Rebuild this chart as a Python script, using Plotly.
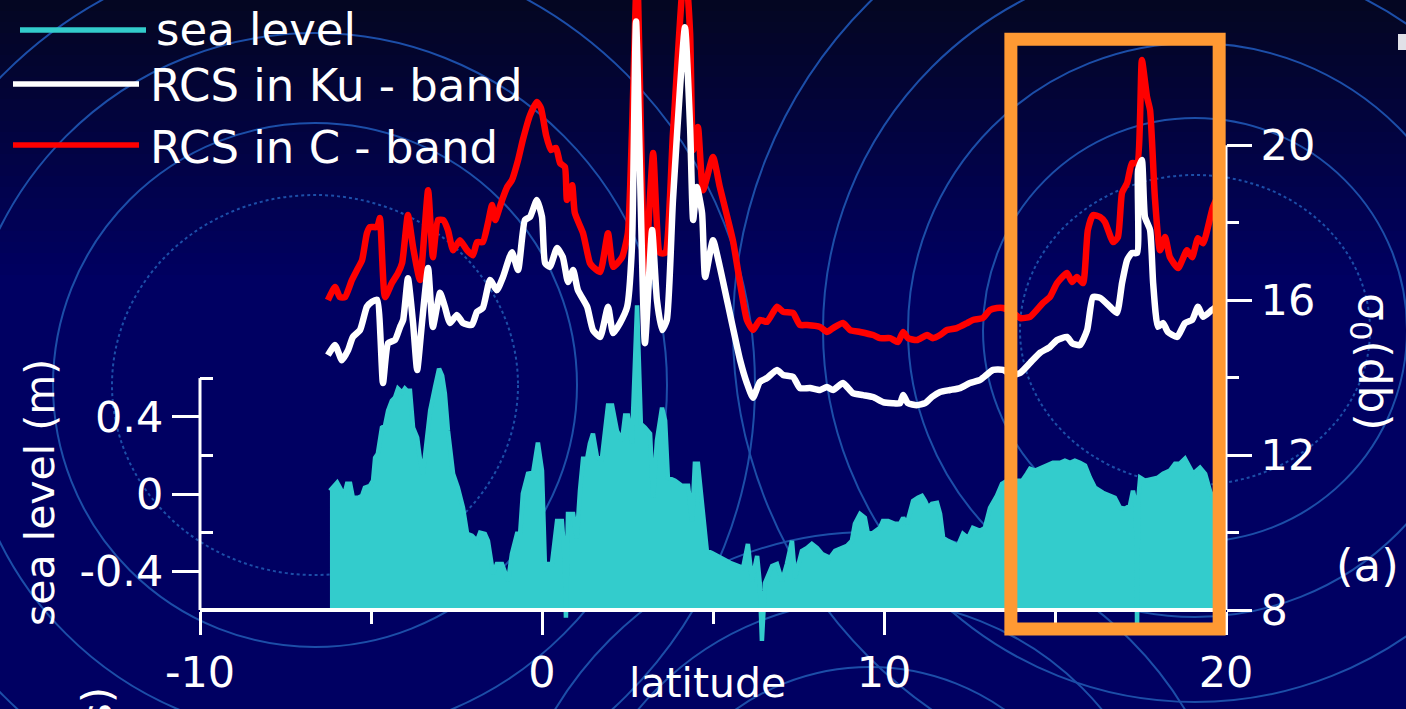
import plotly.graph_objects as go

# ---------------- data ----------------
SEA_LAT = [-6.20, -6.11, -5.99, -5.91, -5.79, -5.70, -5.61, -5.53, -5.38, -5.26, -5.18, -5.03, -4.94, -4.88,
           -4.80, -4.68, -4.59, -4.50, -4.39, -4.30, -4.21, -4.09, -4.01, -3.95, -3.86, -3.77, -3.65, -3.57,
           -3.48, -3.36, -3.27, -3.13, -3.01, -2.92, -2.84, -2.75, -2.60, -2.46, -2.31, -2.19, -2.05, -1.90,
           -1.81, -1.67, -1.58, -1.43, -1.32, -1.17, -1.08, -0.99, -0.88, -0.73, -0.64, -0.56, -0.41, -0.26,
           -0.12, 0.00, 0.09, 0.18, 0.29, 0.44, 0.58, 0.67, 0.70, 0.76, 0.91, 1.02, 1.11, 1.20, 1.32, 1.40,
           1.49, 1.61, 1.75, 1.84, 1.93, 2.05, 2.19, 2.34, 2.43, 2.51, 2.63, 2.78, 2.89, 3.01, 3.16, 3.25,
           3.36, 3.51, 3.60, 3.68, 3.89, 4.09, 4.27, 4.39, 4.47, 4.56, 4.68, 4.82, 4.97, 5.20, 5.50, 5.88,
           6.02, 6.14, 6.29, 6.37, 6.43, 6.52, 6.73, 6.87, 7.02, 7.16, 7.31, 7.40, 7.60, 7.75, 7.89, 8.04,
           8.19, 8.42, 8.57, 8.71, 8.92, 9.06, 9.15, 9.30, 9.44, 9.53, 9.68, 9.88, 9.97, 10.12, 10.32, 10.47,
           10.56, 10.67, 10.76, 10.85, 10.99, 11.11, 11.20, 11.29, 11.40, 11.55, 11.64, 11.73, 11.87, 12.02,
           12.16, 12.31, 12.46, 12.60, 12.81, 12.95, 13.10, 13.30, 13.45, 13.60, 13.77, 14.04, 14.18, 14.27,
           14.42, 14.56, 14.77, 14.94, 15.15, 15.29, 15.44, 15.58, 15.73, 15.88, 16.02, 16.17, 16.40, 16.61,
           16.75, 16.90, 17.05, 17.19, 17.28, 17.37, 17.40, 17.43, 17.49, 17.63, 17.84, 18.01, 18.16, 18.36,
           18.51, 18.65, 18.80, 18.95, 19.04, 19.24, 19.39, 19.53, 19.65]
SEA_M = [0.017, 0.033, 0.059, 0.033, -0.009, 0.053, 0.053, -0.019, -0.019, -0.009, 0.033, 0.043, 0.069, 0.188,
         0.209, 0.344, 0.354, 0.432, 0.483, 0.499, 0.546, 0.525, 0.546, 0.535, 0.535, 0.344, 0.292, 0.183,
         0.105, 0.292, 0.432, 0.551, 0.649, 0.613, 0.520, 0.328, 0.105, 0.033, -0.071, -0.206, -0.216, -0.242,
         -0.200, -0.206, -0.242, -0.413, -0.362, -0.362, -0.413, -0.450, -0.310, -0.206, -0.206, 0.002, 0.105, 0.110,
         0.266, 0.121, -0.397, -0.362, -0.362, -0.139, -0.139, -0.346, -0.640, -0.103, -0.103, -0.227, 0.017, 0.183, 0.183, 0.261,
         0.313, 0.188, 0.183, 0.344, 0.458, 0.458, 0.328, 0.276, 0.406, 0.406, 0.261, 0.976, 0.363, 0.344, 0.313, -0.019,
         0.276, 0.447, 0.380, 0.085, 0.069, 0.043, 0.043, -0.139, 0.157, 0.157, -0.071, -0.294, -0.305, -0.330, -0.356, -0.382,
         -0.258, -0.449, -0.320, -0.465, -0.760, -0.460, -0.372, -0.362, -0.449, -0.362, -0.242, -0.434, -0.294, -0.279, -0.258, -0.279,
         -0.310, -0.330, -0.294, -0.284, -0.268, -0.242, -0.154, -0.103, -0.123, -0.206, -0.201, -0.175, -0.139, -0.139, -0.154, -0.154,
         -0.123, -0.154, -0.103, -0.035, -0.019, -0.009, -0.035, -0.071, -0.050, -0.045, -0.103, -0.227, -0.242, -0.258,
         -0.268, -0.206, -0.227, -0.175, -0.190, -0.175, -0.071, -0.009, 0.053, 0.069, 0.069, 0.069, 0.105, 0.131,
         0.121, 0.131, 0.147, 0.162, 0.162, 0.173, 0.162, 0.173, 0.162, 0.147, 0.085, 0.033, 0.007, -0.009,
         -0.019, -0.071, -0.076, -0.060, 0.017, -0.060, -0.682, -0.035, 0.085, 0.069, 0.079, 0.085, 0.105, 0.121,
         0.157, 0.157, 0.183, 0.136, 0.105, 0.136, 0.105, 0.017, -0.035]

KU_LAT = [-6.26, -6.05, -5.85, -5.67, -5.53, -5.32, -5.12, -4.97, -4.82, -4.65, -4.50, -4.30, -4.15, -4.06,
          -3.92, -3.77, -3.65, -3.51, -3.33, -3.19, -2.98, -2.84, -2.69, -2.49, -2.31, -2.05, -1.90, -1.73,
          -1.52, -1.32, -1.14, -0.88, -0.70, -0.50, -0.35, -0.15, 0.00, 0.09, 0.23, 0.44, 0.61, 0.76, 0.91,
          1.05, 1.32, 1.49, 1.70, 1.93, 2.08, 2.28, 2.49, 2.63, 2.75, 3.01, 3.22, 3.36, 3.51, 3.65, 3.83,
          4.18, 4.33, 4.42, 4.53, 4.68, 4.77, 5.00, 5.20, 5.79, 5.99, 6.17, 6.37, 6.58, 6.87, 7.05, 7.34,
          7.54, 7.84, 8.13, 8.33, 8.51, 8.80, 9.09, 9.39, 9.68, 9.97, 10.26, 10.47, 10.56, 10.70, 10.96,
          11.20, 11.40, 11.64, 11.93, 12.22, 12.51, 12.81, 13.19, 13.48, 13.74, 13.98, 14.27, 14.56, 14.85,
          15.06, 15.35, 15.50, 15.73, 15.94, 16.11, 16.32, 16.61, 16.81, 16.96, 17.11, 17.25, 17.40, 17.43,
          17.54, 17.63, 17.78, 17.87, 18.01, 18.16, 18.30, 18.57, 18.80, 19.01, 19.18, 19.33, 19.59, 19.80]
KU_DB = [14.58, 14.84, 14.45, 14.71, 15.05, 15.23, 15.83, 15.96, 16.01, 13.86, 14.89, 14.97, 15.31, 15.49,
         16.57, 15.41, 14.20, 15.41, 16.83, 15.31, 16.19, 15.83, 15.41, 15.62, 15.41, 15.36, 15.70, 15.80,
         16.52, 16.26, 16.60, 17.24, 16.78, 18.07, 18.15, 18.59, 18.15, 16.96, 16.86, 17.35, 17.11, 16.47, 16.78,
         16.26, 15.83, 15.23, 15.05, 15.83, 15.15, 15.41, 15.83, 17.37, 23.20, 14.89, 17.81, 16.01, 15.23, 15.49, 18.59,
         23.05, 20.47, 18.07, 18.92, 18.25, 16.60, 17.55, 16.86, 14.46, 13.86, 13.48, 13.89, 13.99, 14.20, 14.07, 14.02,
         13.73, 13.73, 13.68, 13.76, 13.68, 13.86, 13.60, 13.55, 13.50, 13.37, 13.34, 13.34, 13.55, 13.34, 13.29,
         13.34, 13.50, 13.63, 13.68, 13.73, 13.86, 13.94, 14.20, 14.20, 14.07, 14.12, 14.38, 14.64, 14.79,
         14.97, 15.05, 14.89, 14.84, 15.23, 16.08, 16.06, 15.83, 15.67, 16.44, 17.04, 17.22, 17.22, 19.36,
         19.62, 18.15, 17.81, 16.44, 15.31, 15.41, 15.18, 15.05, 15.41, 15.49, 15.83, 15.57, 15.75, 15.88]

C_LAT = [-6.26, -6.05, -5.91, -5.76, -5.56, -5.41, -5.26, -5.12, -5.03, -4.82, -4.74, -4.59, -4.39, -4.21,
         -4.09, -3.92, -3.77, -3.57, -3.33, -3.19, -3.04, -2.89, -2.75, -2.60, -2.40, -2.19, -2.02, -1.90,
         -1.73, -1.58, -1.46, -1.37, -1.17, -1.02, -0.88, -0.70, -0.56, -0.35, -0.15, -0.03, 0.12, 0.26,
         0.41, 0.53, 0.67, 0.73, 0.88, 0.96, 1.20, 1.40, 1.49, 1.70, 1.93, 2.08, 2.34, 2.51, 2.63, 2.78,
         3.01, 3.25, 3.45, 3.60, 3.83, 4.18, 4.33, 4.42, 4.56, 4.71, 5.00, 5.20, 5.58, 5.99, 6.17, 6.37,
         6.58, 6.87, 7.05, 7.34, 7.54, 7.75, 8.13, 8.33, 8.51, 8.80, 9.01, 9.30, 9.68, 9.88, 10.18, 10.41,
         10.56, 10.70, 10.96, 11.26, 11.43, 11.64, 11.84, 12.13, 12.43, 12.60, 12.89, 13.10, 13.30, 13.48,
         13.74, 13.98, 14.27, 14.65, 14.85, 15.06, 15.35, 15.50, 15.64, 15.82, 15.96, 16.11, 16.32, 16.46,
         16.70, 16.84, 16.96, 17.11, 17.25, 17.40, 17.54, 17.69, 17.78, 17.92, 18.07, 18.22, 18.36, 18.60,
         18.86, 19.01, 19.18, 19.33, 19.62, 20.00]
C_DB = [16.00, 16.34, 16.08, 16.08, 16.52, 16.78, 17.04, 17.73, 17.89, 17.89, 18.12, 16.08, 16.44, 16.70,
        16.96, 18.20, 17.37, 16.52, 18.84, 17.11, 18.07, 18.07, 17.81, 17.29, 17.55, 17.29, 17.16, 17.50,
        17.50, 17.99, 18.46, 18.07, 18.58, 18.92, 19.10, 19.62, 20.14, 20.78, 21.12, 20.96, 20.26, 19.88,
        19.93, 19.54, 19.44, 18.59, 18.97, 18.25, 17.73, 16.96, 16.86, 16.73, 17.73, 16.86, 17.11, 17.73, 20.32, 24.50,
        16.60, 19.80, 17.22, 17.22, 20.32, 24.80, 22.90, 19.88, 20.47, 18.84, 19.70, 18.92, 17.55, 15.49, 15.23, 15.49,
        15.44, 15.83, 15.70, 15.67, 15.36, 15.36, 15.31, 15.18, 15.28, 15.41, 15.23, 15.18, 15.10, 15.02, 15.02, 14.92,
        15.18, 15.02, 14.97, 15.10, 15.02, 15.10, 15.23, 15.28, 15.41, 15.49, 15.54, 15.75, 15.80, 15.80,
        15.70, 15.54, 15.57, 15.93, 16.08, 16.44, 16.70, 16.47, 16.60, 16.44, 17.81, 18.20, 18.15, 18.02,
        17.50, 17.63, 18.77, 19.03, 19.54, 19.54, 22.20, 21.25, 20.91, 18.66, 17.29, 17.63, 17.11, 16.83,
        17.29, 17.11, 17.60, 17.47, 18.41, 19.10]

assert len(SEA_LAT) == len(SEA_M)
assert len(KU_LAT) == len(KU_DB)
assert len(C_LAT) == len(C_DB)

X_TICKS = [-10, 0, 10, 20]
X_MINOR = [-5, 5, 15]
SL_TICKS = [-0.4, 0, 0.4]
SL_MINOR = [-0.2, 0.2, 0.6]
DB_TICKS = [8, 12, 16, 20]
DB_MINOR = [10, 14, 18]
SL_BASE = -0.6
SL_AXIS = (-0.6, 0.6)
DB_AXIS = (8, 20)
BOX_LAT = (13.71, 19.80)
BOX_DB = (7.51, 22.74)

NAMES = ["sea level", "RCS in Ku - band", "RCS in C - band"]
COLORS = ["rgb(51,204,204)", "#ffffff", "#ff0000"]

def fmt(v):
    return ("%g" % v)

# ---------------- layout geometry (pixels) ----------------
W, H = 1406, 709
PL, PR, PT, PB = 200, 1226, 0, 645
AXIS_Y = 610

def xp(px):
    return (px - PL) / (PR - PL)

def yp(py):
    return (PB - py) / (PB - PT)

FONT = "DejaVu Sans"
FS = 43
FS_LEG = 45
WHITE = "#ffffff"
BG = "rgb(0,0,98)"
ARC = "rgb(28,78,168)"

fig = go.Figure()

fig.add_trace(go.Scatter(x=SEA_LAT, y=[SL_BASE] * len(SEA_LAT), mode="lines",
                         line=dict(width=0, color=COLORS[0]), showlegend=False, hoverinfo="skip"))
fig.add_trace(go.Scatter(x=SEA_LAT, y=SEA_M, mode="lines", name=NAMES[0], fill="tonexty",
                         fillcolor=COLORS[0], line=dict(color=COLORS[0], width=4.5), showlegend=False))
fig.add_trace(go.Scatter(x=C_LAT, y=C_DB, mode="lines", name=NAMES[2], yaxis="y2",
                         line=dict(color=COLORS[2], width=6.5, shape="spline", smoothing=0.5), showlegend=False))
fig.add_trace(go.Scatter(x=KU_LAT, y=KU_DB, mode="lines", name=NAMES[1], yaxis="y2",
                         line=dict(color=COLORS[1], width=6.5, shape="spline", smoothing=0.5), showlegend=False))

# axis ranges derived from the pixel geometry of the reference
sl_per_px = 0.4 / 77.3
db_per_px = 4 / 154.9
sl_rng = [SL_BASE - (PB - AXIS_Y) * sl_per_px, SL_BASE + (AXIS_Y - PT) * sl_per_px]
db_rng = [DB_AXIS[0] - (PB - AXIS_Y) * db_per_px, DB_AXIS[0] + (AXIS_Y - PT) * db_per_px]

tickfont = dict(family=FONT, size=FS, color=WHITE)

shapes = []
# background gradient (top darker)
N = 26
for i in range(N):
    t = i / (N - 1)
    r = int(round(4 * (1 - t)))
    g = int(round(6 * (1 - t)))
    b = int(round(34 + (98 - 34) * t))
    shapes.append(dict(type="rect", xref="paper", yref="paper", layer="below",
                       x0=xp(0), x1=xp(W), y0=yp(i * 11 + 11.5), y1=yp(i * 11),
                       line=dict(width=0), fillcolor="rgb(%d,%d,%d)" % (r, g, b)))

def circ(cx, cy, rx, ry=None, dash="solid", width=2):
    ry = rx if ry is None else ry
    shapes.append(dict(type="circle", xref="paper", yref="paper", layer="below",
                       x0=xp(cx - rx), x1=xp(cx + rx), y0=yp(cy + ry), y1=yp(cy - ry),
                       line=dict(color=ARC, width=width, dash=dash)))

# decorative concentric circles of the slide background
circ(315, 385, 203, 190, dash="dot")
circ(315, 385, 262)
circ(315, 385, 352)
circ(315, 385, 440)
circ(1195, 330, 175, 155, dash="dot")
circ(1195, 330, 212)
circ(1195, 330, 287)
circ(1195, 330, 372)
circ(1195, 330, 462)
circ(870, 900, 233)
circ(870, 900, 300)
circ(870, 900, 368)

# left axis line (only -0.6 .. 0.6)
shapes.append(dict(type="line", xref="paper", yref="y", x0=0, x1=0, y0=SL_AXIS[0], y1=SL_AXIS[1],
                   line=dict(color=WHITE, width=3), layer="above"))
# right axis line (8 .. 20)
shapes.append(dict(type="line", xref="paper", yref="y2", x0=1, x1=1, y0=DB_AXIS[0], y1=DB_AXIS[1],
                   line=dict(color=WHITE, width=3), layer="above"))
# orange highlight box
shapes.append(dict(type="rect", xref="x", yref="y2", x0=BOX_LAT[0], x1=BOX_LAT[1], y0=BOX_DB[0], y1=BOX_DB[1],
                   line=dict(color="rgb(255,153,51)", width=13), fillcolor="rgba(0,0,0,0)", layer="above"))
# legend sample lines
for (x0, x1, y), c in zip([(20, 146, 30), (13, 139, 84), (13, 139, 145)], COLORS):
    shapes.append(dict(type="line", xref="paper", yref="paper", x0=xp(x0), x1=xp(x1), y0=yp(y), y1=yp(y),
                       line=dict(color=c, width=5.5), layer="above"))
# small light mark at the top-right edge of the slide
shapes.append(dict(type="rect", xref="paper", yref="paper", x0=xp(1398), x1=xp(1410), y0=yp(50), y1=yp(34),
                   line=dict(width=0), fillcolor="rgb(225,225,232)", layer="above"))

annotations = []
def ann(text, px, py, xanchor="center", yanchor="middle", size=FS, angle=0):
    annotations.append(dict(text=text, xref="paper", yref="paper", x=xp(px), y=yp(py),
                            xanchor=xanchor, yanchor=yanchor, showarrow=False, textangle=angle,
                            borderpad=0, font=dict(family=FONT, size=size, color=WHITE)))

ann(NAMES[0], 155, 30, xanchor="left", size=FS_LEG)
ann(NAMES[1], 149, 86, xanchor="left", size=FS_LEG)
ann(NAMES[2], 149, 147, xanchor="left", size=FS_LEG)
ann("sea level (m)", 40, 493, size=41, angle=-90)
ann("σ<sub>0</sub>(db)", 1372, 362, size=44, angle=90)
ann("(a)", 1367, 565, size=45)
ann("latitude", 707, 708, yanchor="bottom", size=41)
ann("wind speed (m/s)", 97, 686, yanchor="top", size=41, angle=-90)

fig.update_layout(
    width=W, height=H,
    margin=dict(l=PL, r=W - PR, t=PT, b=H - PB, pad=0),
    paper_bgcolor=BG, plot_bgcolor="rgba(0,0,0,0)",
    font=dict(family=FONT, size=FS, color=WHITE),
    showlegend=False,
    xaxis=dict(range=[-10, 20], anchor="free", position=yp(AXIS_Y), showgrid=False, zeroline=False,
               showline=True, linecolor=WHITE, linewidth=4,
               tickmode="array", tickvals=X_TICKS, ticktext=[fmt(v) for v in X_TICKS],
               ticks="outside", ticklen=23, tickwidth=3, tickcolor=WHITE, tickfont=tickfont,
               minor=dict(tickmode="array", tickvals=X_MINOR, ticks="outside", ticklen=12,
                          tickwidth=3, tickcolor=WHITE, showgrid=False)),
    yaxis=dict(range=sl_rng, showgrid=False, zeroline=False, showline=False,
               tickmode="array", tickvals=SL_TICKS, ticktext=[fmt(v) for v in SL_TICKS],
               ticks="outside", ticklen=27, tickwidth=3, tickcolor=WHITE, tickfont=tickfont,
               minor=dict(tickmode="array", tickvals=SL_MINOR, ticks="inside", ticklen=13,
                          tickwidth=3, tickcolor=WHITE, showgrid=False)),
    yaxis2=dict(range=db_rng, overlaying="y", side="right", anchor="x", showgrid=False, zeroline=False,
                showline=False, tickmode="array", tickvals=DB_TICKS, ticktext=[fmt(v) for v in DB_TICKS],
                ticks="outside", ticklen=25, tickwidth=3, tickcolor=WHITE, tickfont=tickfont,
                minor=dict(tickmode="array", tickvals=DB_MINOR, ticks="outside", ticklen=12,
                           tickwidth=3, tickcolor=WHITE, showgrid=False)),
    shapes=shapes,
    annotations=annotations,
)

fig.write_html("out.html")
